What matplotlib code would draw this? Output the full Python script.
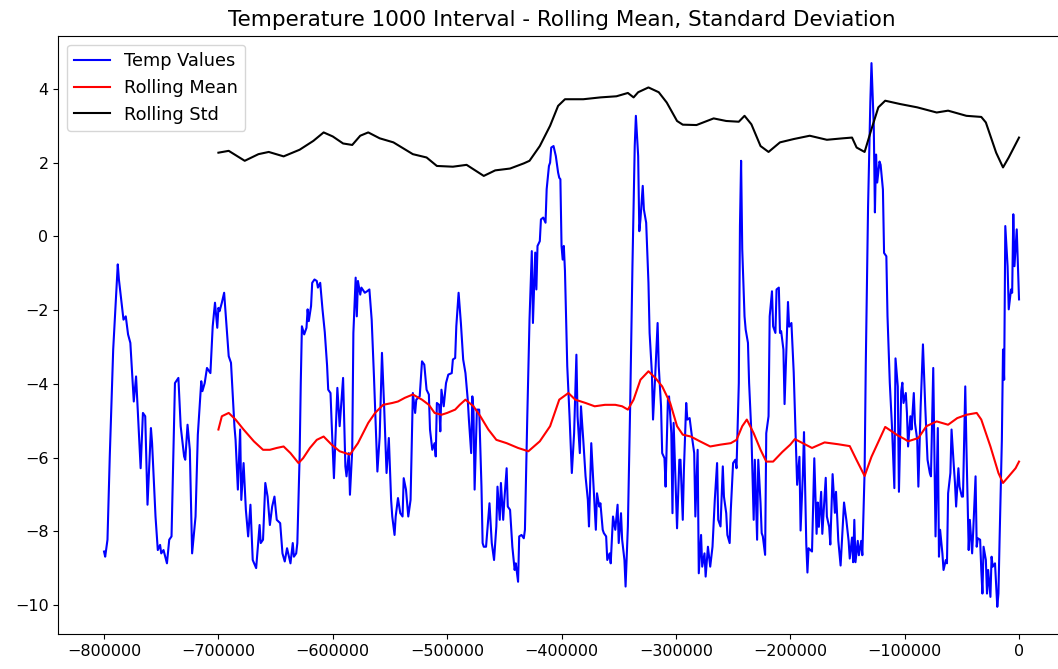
import numpy as np
import matplotlib
matplotlib.use("Agg")
import matplotlib.pyplot as plt

# Temperature anomaly series, age in thousands of years (negative = before present)
temp_age_kyr = [
    -800, -799, -797, -795, -792, -788, -787, -783, -781, -779, -777, -774, -772, -768, -766, -764,
    -762, -759, -758, -755, -753, -751, -750, -748, -745, -743, -741, -738, -735, -733, -730, -729,
    -727, -725, -723, -720, -718, -715, -714, -712, -710, -707, -705, -703, -701, -700, -699, -697,
    -695, -691, -689, -686, -685, -683, -681, -680, -678, -676, -674, -672, -671, -670, -667, -664,
    -663, -661, -659, -657, -655, -653, -651, -649, -646, -644, -642, -640, -637, -635, -634, -632,
    -631, -629, -628, -627, -625, -623, -622, -621, -619, -618, -616, -614, -613, -611, -609, -607,
    -605, -604, -602, -601, -599, -596, -594, -591, -589, -588, -586, -585, -583, -582, -580, -579,
    -578, -576, -575, -572, -570, -568, -566, -564, -561, -559, -557, -555, -553, -551, -549, -548,
    -546, -545, -543, -541, -539, -538, -536, -534, -532, -530, -528, -527, -524, -522, -520, -518,
    -516, -515, -513, -511, -510, -509, -507, -506, -505, -503, -501, -499, -496, -495, -493, -492,
    -490, -488, -486, -484, -482, -481, -479, -478, -477, -476, -474, -472, -470, -469, -468, -466,
    -463, -461, -459, -457, -456, -454, -453, -451, -450, -448, -447, -445, -443, -441, -440, -438,
    -437, -435, -433, -432, -430, -428, -426, -425, -423, -422, -421, -419, -418, -416, -414, -413,
    -411, -410, -409, -407, -405, -403, -402, -401, -400, -399, -398, -397, -395, -393, -391, -389,
    -387, -386, -384, -383, -381, -379, -377, -376, -374, -372, -370, -369, -367, -366, -364, -363,
    -361, -360, -358, -357, -355, -353, -351, -350, -348, -347, -345, -344, -342, -340, -338, -336,
    -335, -333, -332, -331, -329, -328, -326, -324, -323, -321, -320, -318, -316, -315, -313, -312,
    -310, -309, -307, -306, -304, -303, -302, -299, -297, -296, -294, -293, -291, -290, -288, -286,
    -284, -283, -281, -280, -278, -277, -275, -274, -272, -270, -268, -266, -264, -263, -261, -259,
    -258, -256, -255, -253, -252, -250, -248, -247, -245, -244, -243, -242, -240, -239, -237, -236,
    -234, -232, -231, -229, -228, -226, -225, -224, -222, -221, -219, -218, -216, -215, -213, -212,
    -210, -209, -208, -206, -205, -202, -201, -199, -197, -195, -194, -192, -191, -189, -188, -186,
    -185, -184, -181, -179, -177, -176, -175, -173, -172, -170, -169, -168, -166, -165, -163, -161,
    -160, -158, -156, -154, -153, -151, -149, -148, -146, -145, -144, -143, -141, -140, -138, -137,
    -135, -134, -132, -130, -129, -127, -126, -125, -124, -122, -121, -119, -118, -116, -115, -113,
    -111, -109, -108, -106, -105, -103, -102, -101, -99, -98, -97, -95, -94, -92, -91, -89,
    -88, -86, -84, -82, -80, -78, -77, -75, -74, -73, -71, -70, -69, -67, -66, -64,
    -63, -62, -60, -59, -57, -56, -55, -53, -52, -50, -49, -47, -46, -44, -43, -41,
    -40, -38, -37, -36, -34, -33, -32, -31, -29, -28, -27, -25, -24, -23, -21, -19,
    -18, -17, -15, -14, -13, -12, -10, -9, -7, -6, -5, -4, -2, 0,
]
temp_values = [
    -8.55, -8.69, -8.23, -5.97, -3.07, -0.76, -1.17, -2.26, -2.17, -2.66, -2.89, -4.48, -3.80, -6.29, -4.79, -4.88,
    -7.28, -5.20, -5.61, -7.60, -8.51, -8.37, -8.60, -8.51, -8.87, -8.23, -8.14, -3.98, -3.84, -5.15, -5.97, -6.06,
    -5.11, -5.79, -8.60, -7.60, -5.38, -3.93, -4.20, -3.98, -3.57, -3.71, -2.44, -1.80, -2.48, -1.94, -2.03, -1.80,
    -1.53, -3.25, -3.43, -5.15, -5.52, -6.87, -5.24, -7.15, -6.15, -7.42, -8.14, -7.28, -8.05, -8.78, -9.00, -7.83,
    -8.32, -8.23, -6.69, -7.06, -7.83, -7.33, -7.06, -7.69, -7.78, -8.60, -8.82, -8.46, -8.87, -8.32, -8.69, -8.60,
    -8.32, -5.97, -3.98, -2.44, -2.66, -2.48, -1.98, -2.30, -1.89, -1.26, -1.17, -1.21, -1.39, -1.26, -1.98, -2.60,
    -3.50, -4.16, -4.25, -5.06, -6.56, -4.11, -5.15, -3.84, -6.24, -6.51, -5.88, -7.01, -5.79, -2.62, -1.12, -2.17,
    -1.21, -1.58, -1.39, -1.53, -1.49, -1.44, -2.26, -3.80, -6.38, -5.43, -3.16, -4.70, -6.42, -5.47, -7.15, -7.60,
    -8.10, -7.60, -7.10, -7.51, -7.60, -6.56, -6.87, -7.60, -7.15, -4.25, -4.79, -4.43, -4.34, -3.39, -3.48, -4.16,
    -4.29, -5.24, -5.79, -5.61, -5.97, -4.52, -4.57, -5.29, -4.16, -4.61, -3.98, -3.75, -3.71, -3.34, -3.30, -2.44,
    -1.53, -2.35, -3.34, -3.71, -4.43, -4.97, -5.88, -4.34, -4.70, -6.87, -4.70, -4.70, -6.79, -8.32, -8.42, -8.42,
    -7.24, -8.32, -8.78, -7.87, -6.79, -7.69, -6.69, -7.69, -7.15, -6.29, -7.33, -7.42, -8.42, -9.05, -8.87, -9.37,
    -8.14, -8.10, -8.19, -7.96, -4.97, -2.26, -0.40, -2.35, -0.44, -1.44, -0.26, -0.13, 0.46, 0.51, 0.37, 1.28,
    1.91, 2.00, 2.41, 2.45, 2.18, 1.73, 1.59, 1.55, -0.26, -0.63, -0.26, -0.94, -3.52, -4.88, -6.42, -5.34,
    -3.21, -4.88, -5.88, -4.61, -5.52, -6.51, -7.15, -7.87, -5.61, -6.79, -7.96, -6.97, -7.33, -7.24, -7.96, -8.05,
    -8.14, -8.78, -8.60, -8.87, -7.60, -7.96, -7.28, -8.32, -7.51, -8.23, -8.78, -9.50, -7.87, -4.61, -0.81, 2.45,
    3.27, 2.18, 0.14, 0.46, 1.37, 0.73, 0.37, -1.26, -2.62, -3.71, -4.97, -3.71, -2.35, -3.52, -4.61, -5.88,
    -6.02, -6.79, -4.43, -4.34, -5.34, -7.51, -5.06, -7.92, -6.06, -6.06, -7.69, -6.33, -4.52, -4.97, -4.93, -5.43,
    -5.88, -7.60, -5.79, -9.14, -8.10, -8.96, -8.60, -9.23, -8.42, -8.96, -8.42, -7.15, -6.15, -7.69, -7.87, -6.24,
    -7.06, -7.51, -8.10, -8.32, -7.42, -6.15, -6.06, -6.29, -3.98, 0.28, 2.05, -0.35, -2.17, -2.53, -2.89, -3.98,
    -5.34, -7.69, -6.06, -8.23, -6.06, -7.24, -8.05, -8.14, -8.64, -5.34, -4.88, -2.17, -1.49, -2.44, -2.62, -1.44,
    -1.39, -2.62, -2.57, -3.07, -4.55, -1.78, -2.45, -2.35, -3.69, -5.69, -6.74, -5.98, -7.98, -6.45, -5.31, -8.36,
    -9.12, -8.46, -8.55, -6.02, -8.07, -7.22, -7.88, -6.93, -8.07, -7.07, -6.55, -7.60, -7.88, -8.36, -6.45, -7.50,
    -6.93, -8.26, -8.93, -7.79, -7.22, -7.69, -8.26, -8.74, -8.17, -8.84, -7.69, -8.84, -8.26, -8.65, -8.26, -8.65,
    -6.36, -3.50, 0.79, 3.65, 4.70, 2.99, 0.65, 2.22, 1.46, 2.03, 1.94, 1.27, -0.45, -0.54, -2.16, -3.97,
    -5.21, -6.83, -3.31, -4.07, -6.93, -4.20, -3.97, -4.52, -4.25, -4.79, -5.70, -4.88, -5.24, -4.25, -5.06, -5.52,
    -6.79, -4.61, -2.93, -4.61, -6.06, -6.42, -6.51, -3.57, -5.97, -8.14, -5.20, -8.69, -7.96, -8.60, -9.05, -8.78,
    -8.87, -6.97, -6.42, -5.24, -6.24, -6.69, -7.33, -6.29, -6.79, -7.06, -7.06, -4.07, -5.70, -8.51, -7.69, -8.60,
    -7.96, -6.51, -8.42, -8.19, -8.23, -9.05, -9.69, -8.42, -8.78, -9.69, -9.05, -9.78, -8.69, -8.96, -8.87, -10.05,
    -9.69, -8.23, -5.52, -3.07, -3.89, 0.28, -0.81, -1.98, -1.44, -1.53, 0.60, -0.81, 0.19, -1.71,
]

# Rolling mean over the 100-sample window
mean_age_kyr = [
    -700, -697, -691, -685, -678, -669, -661, -655, -649, -643, -637, -630, -626, -620, -614, -608,
    -601, -594, -585, -578, -569, -563, -556, -548, -543, -537, -530, -522, -516, -511, -505, -500,
    -493, -489, -484, -477, -471, -464, -457, -448, -438, -429, -419, -410, -402, -394, -388, -379,
    -371, -362, -353, -347, -342, -337, -331, -324, -318, -312, -305, -299, -294, -287, -279, -270,
    -261, -252, -247, -242, -238, -232, -226, -221, -215, -207, -200, -196, -181, -170, -158, -148,
    -142, -135, -129, -117, -106, -100, -97, -88, -81, -72, -62, -54, -46, -37, -33, -25,
    -18, -14, -9, -3, 0,
]
mean_values = [
    -5.24, -4.88, -4.79, -4.97, -5.24, -5.56, -5.79, -5.79, -5.74, -5.70, -5.88, -6.15, -6.02, -5.74, -5.52, -5.43,
    -5.65, -5.83, -5.92, -5.61, -5.06, -4.79, -4.57, -4.52, -4.48, -4.38, -4.29, -4.43, -4.57, -4.79, -4.84, -4.79,
    -4.70, -4.57, -4.43, -4.61, -4.88, -5.24, -5.52, -5.61, -5.74, -5.83, -5.56, -5.15, -4.43, -4.25, -4.43, -4.52,
    -4.61, -4.57, -4.57, -4.61, -4.70, -4.43, -3.89, -3.66, -3.84, -4.07, -4.52, -5.15, -5.38, -5.43, -5.56, -5.70,
    -5.65, -5.61, -5.52, -5.15, -4.97, -5.34, -5.79, -6.11, -6.11, -5.85, -5.65, -5.50, -5.74, -5.59, -5.64, -5.69,
    -6.07, -6.50, -5.98, -5.17, -5.40, -5.50, -5.56, -5.47, -5.15, -5.02, -5.11, -4.93, -4.84, -4.79, -4.97, -5.70,
    -6.42, -6.69, -6.51, -6.29, -6.11,
]

# Rolling standard deviation over the same window
std_age_kyr = [
    -700, -691, -677, -665, -656, -643, -629, -617, -608, -600, -591, -583, -576, -569, -559, -547,
    -530, -518, -509, -495, -483, -468, -458, -445, -433, -428, -419, -410, -403, -397, -381, -366,
    -352, -342, -337, -333, -324, -315, -308, -299, -294, -282, -267, -256, -245, -240, -234, -226,
    -219, -209, -197, -183, -168, -154, -146, -142, -135, -129, -123, -117, -104, -89, -72, -62,
    -46, -33, -29, -20, -14, -9, 0,
]
std_values = [
    2.27, 2.32, 2.05, 2.23, 2.29, 2.17, 2.35, 2.59, 2.82, 2.71, 2.52, 2.48, 2.73, 2.82, 2.66, 2.55,
    2.23, 2.14, 1.91, 1.89, 1.94, 1.64, 1.79, 1.84, 1.98, 2.05, 2.45, 3.00, 3.54, 3.72, 3.72, 3.77,
    3.80, 3.89, 3.77, 3.91, 4.04, 3.91, 3.63, 3.13, 3.03, 3.02, 3.20, 3.13, 3.11, 3.27, 3.04, 2.45,
    2.29, 2.55, 2.64, 2.73, 2.62, 2.66, 2.68, 2.41, 2.29, 2.91, 3.50, 3.68, 3.59, 3.50, 3.36, 3.41,
    3.27, 3.24, 3.09, 2.27, 1.87, 2.14, 2.68,
]

temp_years = np.array(temp_age_kyr) * 1000
mean_years = np.array(mean_age_kyr) * 1000
std_years = np.array(std_age_kyr) * 1000

fig = plt.figure(figsize=(10.58, 6.69), dpi=100)
ax = fig.add_axes([0.0551, 0.0523, 0.9513, 0.894])

ax.plot(temp_years, temp_values, color="blue", label="Temp Values")
ax.plot(mean_years, mean_values, color="red", label="Rolling Mean")
ax.plot(std_years, std_values, color="black", label="Rolling Std")

ax.set_title("Temperature 1000 Interval - Rolling Mean, Standard Deviation", fontsize=15.5, pad=7)
ax.tick_params(labelsize=11.5)
ax.legend(loc="upper left", fontsize=12.8)

fig.savefig("out.png", dpi=100)
